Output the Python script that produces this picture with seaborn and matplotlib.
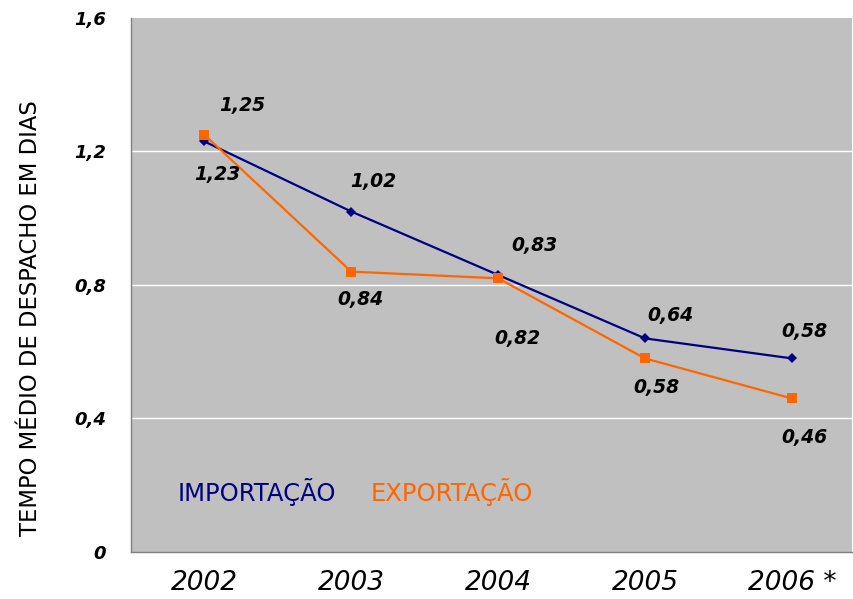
import numpy as np
import pandas as pd
import matplotlib
matplotlib.use("Agg")
import matplotlib.pyplot as plt
import seaborn as sns

# data
anos = ["2002", "2003", "2004", "2005", "2006 *"]
importacao = [1.23, 1.02, 0.83, 0.64, 0.58]
exportacao = [1.25, 0.84, 0.82, 0.58, 0.46]
series = ["IMPORTAÇÃO", "EXPORTAÇÃO"]
yticks = [0, 0.4, 0.8, 1.2, 1.6]

cores = {"IMPORTAÇÃO": "#000080", "EXPORTAÇÃO": "#FF6600"}

df = pd.DataFrame({
    "pos": list(range(len(anos))) * 2,
    "ano": anos * 2,
    "valor": importacao + exportacao,
    "serie": [series[0]] * len(anos) + [series[1]] * len(anos),
})

sns.set_style("white")
plt.rcParams["font.family"] = ["DejaVu Sans"]
plt.rcParams["text.color"] = "black"
plt.rcParams["axes.labelcolor"] = "black"
plt.rcParams["xtick.color"] = "black"
plt.rcParams["ytick.color"] = "black"

fig = plt.figure(figsize=(8.54, 5.99), dpi=100)
ax = fig.add_axes([0.1534, 0.0785, 0.8443, 0.8915])
ax.set_facecolor("#C0C0C0")

sns.lineplot(data=df, x="pos", y="valor", hue="serie", style="serie",
             palette=cores, markers={"IMPORTAÇÃO": "D", "EXPORTAÇÃO": "s"},
             dashes=False, linewidth=1.6, legend=False, ax=ax,
             markeredgewidth=0)
ax.lines[0].set_markersize(5)
ax.lines[1].set_markersize(7)

ax.set_xlim(-0.5, 4.41)
ax.set_ylim(0, 1.6)
ax.set_yticks(yticks)
ax.set_yticklabels(["0", "0,4", "0,8", "1,2", "1,6"], fontsize=13,
                   fontweight="bold", fontstyle="italic")
ax.set_xticks(range(len(anos)))
ax.set_xticklabels(anos, fontsize=19, fontstyle="italic")
ax.tick_params(axis="y", length=0, pad=18)
ax.tick_params(axis="x", length=0, pad=13)

for y in yticks[1:-1]:
    ax.axhline(y, color="white", linewidth=1, zorder=0.5)

for s in ax.spines.values():
    s.set_color("#808080")
    s.set_linewidth(1)
ax.spines["top"].set_visible(False)
ax.spines["right"].set_visible(False)

ax.set_xlabel("")
ax.set_ylabel("TEMPO MÉDIO DE DESPACHO EM DIAS", fontsize=16.3)
ax.yaxis.set_label_coords(-0.124, 0.438)

# data labels
off_imp = [(13, -33), (22, 30), (36, 29), (25, 23), (13, 27)]
off_exp = [(38, 29), (9, -28), (19, -60), (11, -29), (13, -39)]
for vals, offs in [(importacao, off_imp), (exportacao, off_exp)]:
    for i, (v, o) in enumerate(zip(vals, offs)):
        ax.annotate(f"{v:.2f}".replace(".", ","), (i, v), xytext=o,
                    textcoords="offset pixels", ha="center", va="center",
                    fontsize=13.5, fontweight="bold", fontstyle="italic",
                    color="black")

ax.text(0.065, 0.112, series[0], transform=ax.transAxes, color=cores[series[0]],
        fontsize=17.5, va="center", ha="left")
ax.text(0.332, 0.112, series[1], transform=ax.transAxes, color=cores[series[1]],
        fontsize=17.5, va="center", ha="left")

fig.savefig("out.png", dpi=100)
